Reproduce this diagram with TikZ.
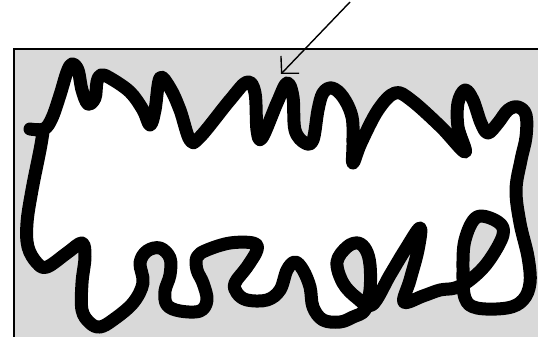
\documentclass[tikz,border=0pt]{standalone}
\usepackage{tikz}
\usetikzlibrary{arrows.meta}

\begin{document}
\begin{tikzpicture}[x=1pt, y=-1pt, >={Straight Barb[length=12pt,width=25pt]}]
    % 0. Khung hình
    \clip (0,0) rectangle (538,337);
    \useasboundingbox (0,0) rectangle (538,337);
    \draw[line width=1.6pt, fill=gray!30] (14,49) rectangle (560,360);
    
    % 1. Đường cong kín
    \draw[line width=13pt, line cap=round, line join=round, fill=white, even odd rule]
        plot[smooth, tension=0.6] coordinates {
        (30,129) (44,129) (52,118) (60,95) (67,72) (72,64) (78,70) (82,90) (88,104)
        (95,98) (97,82) (101,75) (110,78) (130,92) (143,110) (150,125) (155,110)
        (160,78) (170,88) (180,110) (190,140) (200,137) (230,100) (247,82) (255,93)
        (257,130) (262,138) (277,103) (287,83) (293,97) (295,130) (305,143) (313,140)
        (318,110) (323,93) (332,88) (343,97) (352,117) (353,143) (353,163) (361,143)
        (378,110) (395,93) (411,100) (441,127) (465,152) (458,127) (458,103) (465,90)
        (473,100) (481,123) (488,133) (498,123) (508,110) (518,107) (526,115) (526,137)
        (521,160) (516,190) (520,223) (528,257) (530,283) (523,300) (507,308) (477,308)
        (465,298) (463,270) (465,240) (477,217) (498,222) (503,235) (488,262) (470,280)
        (455,288) (440,290) (423,296) (404,302) (410,280) (418,250) (420,228) (405,250)
        (390,275) (372,305) (357,298) (343,283) (337,262) (347,247) (358,243) (366,250)
        (370,265) (370,290) (365,310) (353,317) (340,322) (323,320) (313,307) (310,287)
        (303,270) (295,262) (287,270) (280,290) (267,300) (247,300) (237,293) (235,283)
        (247,267) (257,250) (253,243) (230,243) (207,250) (197,257) (197,270) (203,283)
        (207,300) (200,311) (180,311) (167,305) (165,291) (170,275) (170,258) (160,248)
        (147,251) (140,263) (143,283) (133,303) (113,320) (100,327) (90,323) (82,310)
        (82,283) (85,257) (82,243) (67,253) (47,267) (37,263) (28,247) (27,223) (32,190)
        (40,150) (43,132)};
    
    % 2. Mũi tên
    \coordinate (duoi) at (350,2);
    \coordinate (mui) at (281,74);
    \draw[->, line width=1.4pt] (duoi) -- (mui);
\end{tikzpicture}
\end{document}
